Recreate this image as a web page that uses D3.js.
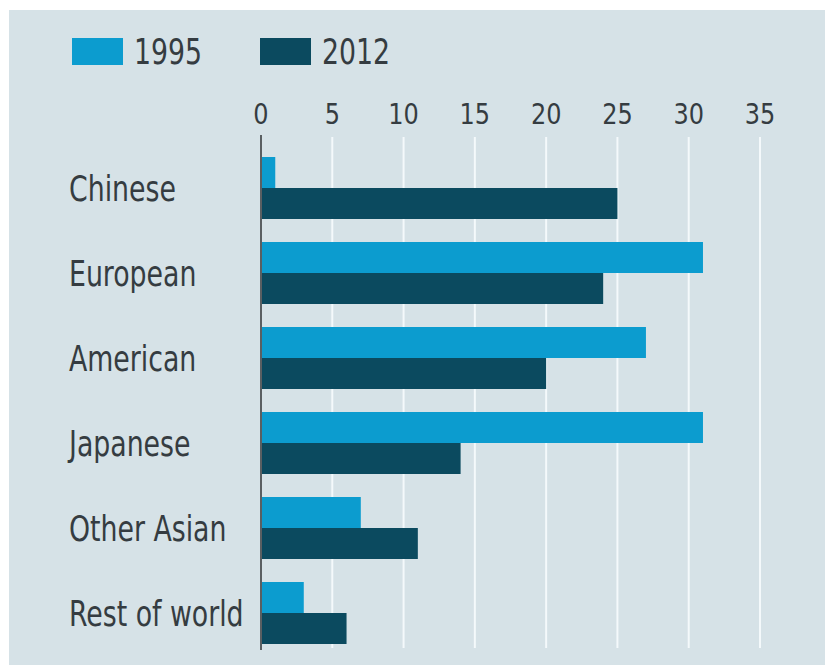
<!DOCTYPE html>
<html>
<head>
<meta charset="utf-8">
<script src="https://cdn.jsdelivr.net/npm/d3@7"></script>
<style>
	body { margin: 0; background: #fff; }
	svg { display: block; }
	text { font-family: 'Liberation Sans Narrow', 'DejaVu Sans Condensed', sans-serif; fill: #353c41; }
</style>
</head>
<body>
<div class="chart"></div>
<script>
const categories = ['Chinese', 'European', 'American', 'Japanese', 'Other Asian', 'Rest of world']
const years = ['1995', '2012']
const values1995 = [1, 31, 27, 31, 7, 3]
const values2012 = [25, 24, 20, 14, 11, 6]
const tickValues = [0, 5, 10, 15, 20, 25, 30, 35]

const colors = { '1995': '#0c9ccf', '2012': '#0b4a5f' }

const width = 825
const height = 666

// the reference face is narrower than anything installed, so squeeze it a bit
const squeeze = 0.85

const scaleX = d3.scaleLinear()
	.domain([0, 35])
	.range([261, 760])

const scaleY = d3.scaleBand()
	.domain(categories)
	.range([157, 644])
	.paddingInner(23 / 85)
	.paddingOuter(0)

const scaleYear = d3.scaleBand()
	.domain(years)
	.range([0, scaleY.bandwidth()])

const rows = categories.map((c, i) => ({
	name: c,
	values: [
		{ year: '1995', value: values1995[i] },
		{ year: '2012', value: values2012[i] },
	],
}))

function setupDOM() {
	const svg = d3.select('.chart')
		.append('svg')
		.attr('width', width)
		.attr('height', height)

	svg.append('rect')
		.attr('x', 9)
		.attr('y', 10)
		.attr('width', width - 9)
		.attr('height', 655)
		.attr('fill', '#d6e2e7')

	return svg
}

function drawLegend(svg) {
	const legend = svg.append('g').attr('class', 'legend')

	const item = legend.selectAll('.legend__item')
		.data(years)
		.enter().append('g')
		.attr('class', 'legend__item')
		.attr('transform', (d, i) => `translate(${72 + i * 188}, 38)`)

	item.append('rect')
		.attr('width', 51)
		.attr('height', 27)
		.attr('fill', d => colors[d])

	item.append('text')
		.attr('transform', `translate(62, 26) scale(${squeeze}, 1)`)
		.style('font-size', '35px')
		.text(d => d)
}

function drawAxis(svg) {
	const axis = svg.append('g').attr('class', 'axis')

	axis.selectAll('.grid')
		.data(tickValues.filter(d => d > 0))
		.enter().append('line')
		.attr('class', 'grid')
		.attr('x1', d => scaleX(d))
		.attr('x2', d => scaleX(d))
		.attr('y1', 137)
		.attr('y2', 648)
		.attr('stroke', '#f4f9fb')
		.attr('stroke-width', 2)

	axis.selectAll('.tick-label')
		.data(tickValues)
		.enter().append('text')
		.attr('class', 'tick-label')
		.attr('transform', d => `translate(${scaleX(d)}, 124) scale(0.92, 1)`)
		.attr('text-anchor', 'middle')
		.style('font-size', '29px')
		.text(d => d)
}

function drawBars(svg) {
	const plot = svg.append('g').attr('class', 'plot')

	const group = plot.selectAll('.group')
		.data(rows)
		.enter().append('g')
		.attr('class', 'group')
		.attr('transform', d => `translate(0, ${scaleY(d.name)})`)

	group.selectAll('.bar')
		.data(d => d.values)
		.enter().append('rect')
		.attr('class', 'bar')
		.attr('x', scaleX(0))
		.attr('y', d => scaleYear(d.year))
		.attr('width', d => scaleX(d.value) - scaleX(0))
		.attr('height', scaleYear.bandwidth())
		.attr('fill', d => colors[d.year])

	group.append('text')
		.attr('class', 'label')
		.attr('transform', `translate(69, ${scaleY.bandwidth() / 2 + 13}) scale(${squeeze}, 1)`)
		.style('font-size', '35px')
		.text(d => d.name)

	// zero line on top of the bars
	plot.append('line')
		.attr('x1', scaleX(0))
		.attr('x2', scaleX(0))
		.attr('y1', 135)
		.attr('y2', 650)
		.attr('stroke', '#5a5f62')
		.attr('stroke-width', 2)
}

function init() {
	const svg = setupDOM()
	drawLegend(svg)
	drawAxis(svg)
	drawBars(svg)
}

init()
</script>
</body>
</html>
